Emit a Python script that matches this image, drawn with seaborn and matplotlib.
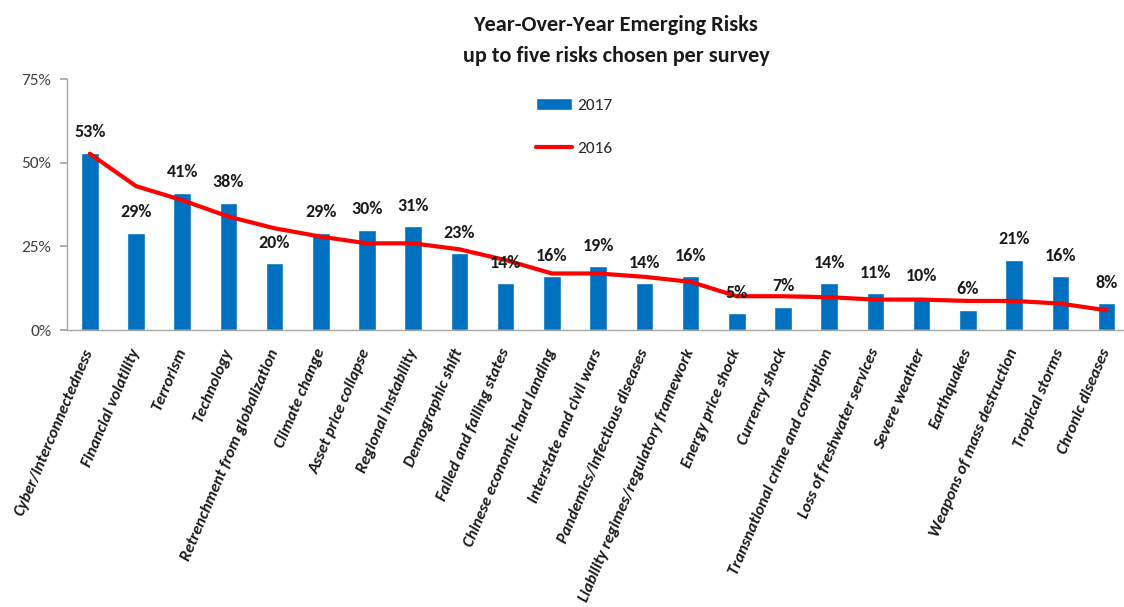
import matplotlib
matplotlib.use('Agg')
import matplotlib.pyplot as plt
import numpy as np
import pandas as pd
import seaborn as sns

risks = ['Cyber/interconnectedness', 'Financial volatility', 'Terrorism', 'Technology',
         'Retrenchment from globalization', 'Climate change', 'Asset price collapse',
         'Regional instability', 'Demographic shift', 'Failed and failing states',
         'Chinese economic hard landing', 'Interstate and civil wars',
         'Pandemics/infectious diseases', 'Liability regimes/regulatory framework',
         'Energy price shock', 'Currency shock', 'Transnational crime and corruption',
         'Loss of freshwater services', 'Severe weather', 'Earthquakes',
         'Weapons of mass destruction', 'Tropical storms', 'Chronic diseases']
pct_2017 = [53, 29, 41, 38, 20, 29, 30, 31, 23, 14, 16, 19, 14, 16, 5, 7, 14, 11, 10, 6, 21, 16, 8]
pct_2016 = [52.7, 43, 38.8, 33.9, 30.4, 27.9, 25.9, 25.9, 24.1, 20.9, 16.9, 16.9, 15.9, 14.4,
            10.1, 10.1, 9.8, 9.1, 9.1, 8.7, 8.7, 7.9, 5.9]

df = pd.DataFrame({'risk': risks, '2017': pct_2017, '2016': pct_2016})

sns.set_theme(style='white')
plt.rcParams['font.family'] = ['Carlito', 'DejaVu Sans']

fig = plt.figure(figsize=(11.24, 6.07), dpi=100)
ax = fig.add_axes([0.0593, 0.4563, 0.9457, 0.4135])

sns.barplot(data=df, x='risk', y='2017', color='#0070C0', width=0.38,
            saturation=1, label='2017', ax=ax)
sns.lineplot(data=df, x='risk', y='2016', color='#FF0000', linewidth=3,
             label='2016', sort=False, ax=ax)

ax.bar_label(ax.containers[0], labels=[f'{v}%' for v in pct_2017], padding=9,
             fontsize=13, fontweight='bold', color='#1a1a1a')

# axes
ax.set_xlim(-0.5, len(risks) - 0.5)
ax.set_ylim(0, 75)
ax.set_yticks([0, 25, 50, 75])
ax.set_yticklabels(['0%', '25%', '50%', '75%'], fontsize=12.5, color='#404040')
ax.set_xticks(range(len(risks)))
ax.set_xticklabels(risks, rotation=67, ha='right', va='center', rotation_mode='anchor',
                   fontsize=12, fontweight='bold', fontstyle='italic', color='#1a1a1a')
ax.set_xticks(np.arange(0.5, len(risks) - 1, 1), minor=True)
ax.tick_params(axis='x', which='major', length=0, pad=14)
ax.tick_params(axis='x', which='minor', length=5, color='#A6A6A6', direction='out')
ax.tick_params(axis='y', length=5, color='#A6A6A6', direction='out', pad=6, left=True)
ax.set_xlabel('')
ax.set_ylabel('')
for s in ['top', 'right']:
    ax.spines[s].set_visible(False)
for s in ['left', 'bottom']:
    ax.spines[s].set_color('#A6A6A6')
    ax.spines[s].set_linewidth(1)

# legend: 2017 bars first, then 2016 line
handles, labels = ax.get_legend_handles_labels()
order = [labels.index('2017'), labels.index('2016')]
ax.legend([handles[i] for i in order], [labels[i] for i in order],
          loc='upper left', bbox_to_anchor=(536 / 1124, 1 - 98 / 607),
          bbox_transform=fig.transFigure, frameon=False, fontsize=12.5,
          handlelength=2.1, handletextpad=0.25, labelspacing=1.6, borderpad=0,
          borderaxespad=0)

fig.text(0.548, 1 - 31 / 607, 'Year-Over-Year Emerging Risks', ha='center',
         va='baseline', fontsize=16, fontweight='bold', color='#1a1a1a')
fig.text(0.548, 1 - 62 / 607, 'up to five risks chosen per survey', ha='center',
         va='baseline', fontsize=16, fontweight='bold', color='#1a1a1a')

fig.savefig('out.png', dpi=100)
